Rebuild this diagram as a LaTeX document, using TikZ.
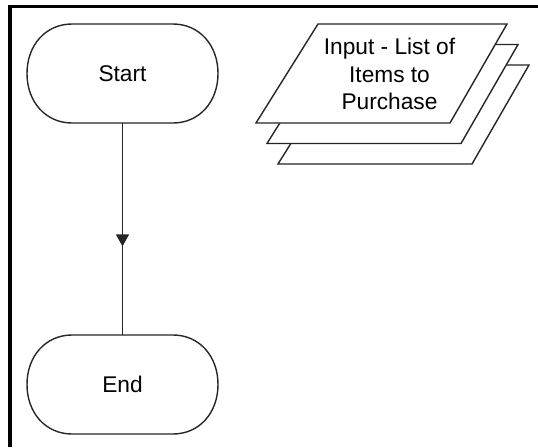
\documentclass[tikz,border=0pt]{standalone}
\usepackage{fontspec}
\setmainfont{Liberation Sans}
\usetikzlibrary{arrows.meta}
\newcommand\termoutline[1]{%
  \draw[termline] ([xshift=45pt]#1.north west) -- ([xshift=-45pt]#1.north east)
   .. controls ([xshift=-19pt]#1.north east) and ([yshift=28.7pt]#1.east) .. (#1.east)
   .. controls ([yshift=-28.7pt]#1.east) and ([xshift=-19pt]#1.south east) .. ([xshift=-45pt]#1.south east)
   -- ([xshift=45pt]#1.south west)
   .. controls ([xshift=19pt]#1.south west) and ([yshift=-28.7pt]#1.west) .. (#1.west)
   .. controls ([yshift=28.7pt]#1.west) and ([xshift=19pt]#1.north west) .. cycle;}
\begin{document}
\begin{tikzpicture}[x=1pt,y=-1pt,
  term/.style={minimum width=191pt,minimum height=99pt,inner sep=0pt,outer sep=0pt,
    font=\fontsize{22.7}{27.5}\selectfont},
  termline/.style={draw=black!85,line width=1.4pt},
  para/.style={draw=black!85,line width=1.4pt,fill=white,line join=miter},
  conn/.style={draw=black!85,line width=1.4pt},
  frameline/.style={line width=3.6pt,black}]
\useasboundingbox (0,0) rectangle (538,447);
\fill[white] (0,0) rectangle (538,447);
% frame
\draw[frameline] (8,6.5) -- (538,6.5);
\draw[frameline] (9.8,4.7) -- (9.8,447);
% terminals
\node[term] (start) at (122.5,73.5) {Start};
\node[term] (end) at (122.5,384.5) {End};
\termoutline{start}
\termoutline{end}
\path (start.south) -- (end.north) coordinate[pos=0.582] (mid);
\draw[conn,-{Triangle[width=13pt,length=12pt]}] (start.south) -- (mid);
\draw[conn] (mid) -- (end.north);
% stacked input parallelograms
\foreach \dx/\dy in {22/41,11/20.5,0/0}{
  \draw[para] (318+\dx,24+\dy) -- (507+\dx,24+\dy) -- (450+\dx,123+\dy) -- (256+\dx,123+\dy) -- cycle;
}
\node[align=center,inner sep=0pt,font=\fontsize{22.7}{27.5}\selectfont] (input) at (389.5,74) {Input - List of\\Items to\\Purchase};
\end{tikzpicture}
\end{document}
